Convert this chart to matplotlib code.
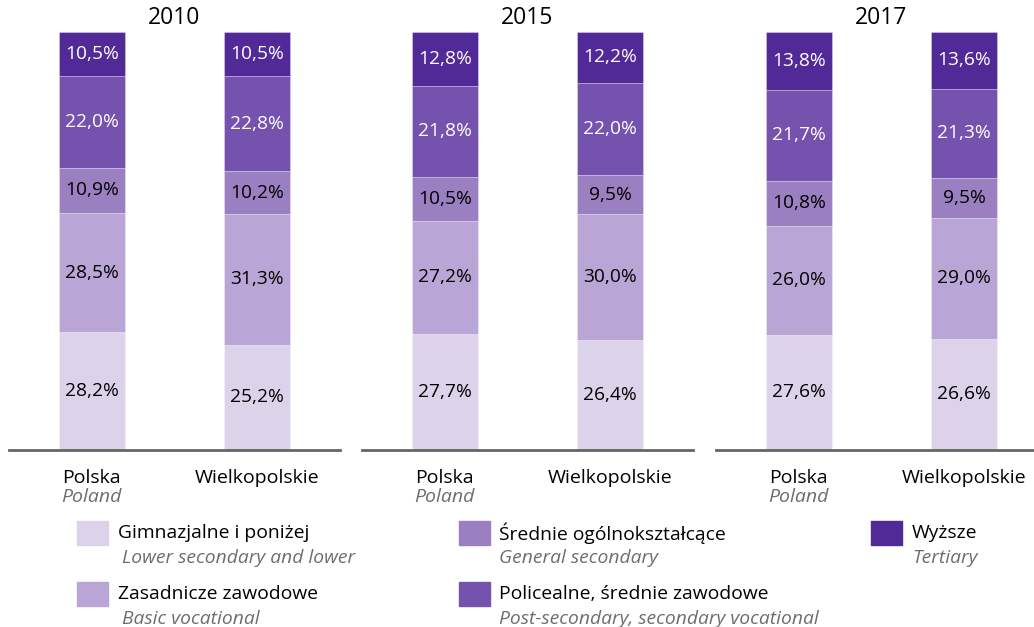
import matplotlib
matplotlib.use("Agg")
import matplotlib.pyplot as plt
from matplotlib.patches import Rectangle

plt.rcParams['font.family'] = ['Open Sans', 'DejaVu Sans']

years = ["2010", "2015", "2017"]
regions = ["Polska", "Wielkopolskie"]
regions_en = ["Poland", ""]
levels_pl = ["Gimnazjalne i poniżej", "Zasadnicze zawodowe", "Średnie ogólnokształcące",
             "Policealne, średnie zawodowe", "Wyższe"]
levels_en = ["Lower secondary and lower", "Basic vocational", "General secondary",
             "Post-secondary, secondary vocational", "Tertiary"]
colors = ["#dcd3ea", "#b9a6d6", "#9a7fc1", "#7552ad", "#512a97"]
text_colors = ["black", "black", "black", "white", "white"]

# values[year][region] = [lower sec, basic voc, general sec, post-sec, tertiary]
values_2010 = [[28.2, 28.5, 10.9, 22.0, 10.5], [25.2, 31.3, 10.2, 22.8, 10.5]]
values_2015 = [[27.7, 27.2, 10.5, 21.8, 12.8], [26.4, 30.0, 9.5, 22.0, 12.2]]
values_2017 = [[27.6, 26.0, 10.8, 21.7, 13.8], [26.6, 29.0, 9.5, 21.3, 13.6]]
all_values = [values_2010, values_2015, values_2017]

W, H = 1034, 627
fig = plt.figure(figsize=(W / 100, H / 100), dpi=100)

ax_lefts = [9, 362, 716]
ax_w = 331
ax_bottom = 450
ax_top = 32

for yi, (yr, vals) in enumerate(zip(years, all_values)):
    ax = fig.add_axes([ax_lefts[yi] / W, (H - ax_bottom) / H, ax_w / W, (ax_bottom - ax_top) / H])
    ax.set_xlim(-0.5, 1.5)
    ax.set_ylim(0, 100)
    for spine in ["top", "right", "left"]:
        ax.spines[spine].set_visible(False)
    ax.spines["bottom"].set_color("#666666")
    ax.spines["bottom"].set_linewidth(2)
    ax.spines["bottom"].set_zorder(5)
    ax.set_yticks([])
    ax.set_xticks([])
    for ri, rv in enumerate(vals):
        total = sum(rv)
        bottom = 0
        for li, v in enumerate(rv):
            h = v / total * 100
            ax.bar(ri, h, width=0.4, bottom=bottom, color=colors[li],
                   edgecolor=(1, 1, 1, 0.35), linewidth=0.6)
            ax.text(ri, bottom + h / 2, f"{v:.1f}%".replace(".", ","),
                    ha="center", va="center", fontsize=13.8, color=text_colors[li])
            bottom += h
        ax.text(ri, -6.7, regions[ri], ha="center", va="center", fontsize=14,
                color="black", clip_on=False)
        if regions_en[ri]:
            ax.text(ri, -11.3, regions_en[ri], ha="center", va="center", fontsize=14,
                    color="#6d6d6d", style="italic", clip_on=False)
    ax.text(0.5, 1.005, yr, transform=ax.transAxes, ha="center", va="bottom",
            fontsize=16.5, color="black")

# legend
sq_w, sq_h = 31, 24
leg_items = [
    (77, 521, 118, 122, 0),
    (77, 582, 118, 122, 1),
    (459, 521, 499, 499, 2),
    (459, 582, 499, 499, 3),
    (871, 521, 912, 912, 4),
]
for sx, sy, tx, ix, li in leg_items:
    fig.patches.append(Rectangle((sx / W, 1 - (sy + sq_h) / H), sq_w / W, sq_h / H,
                                 transform=fig.transFigure, color=colors[li]))
    fig.text(tx / W, 1 - (sy + 12) / H, levels_pl[li], ha="left", va="center",
             fontsize=13.9, color="black")
    fig.text(ix / W, 1 - (sy + 37) / H, levels_en[li], ha="left", va="center",
             fontsize=13.9, color="#6d6d6d", style="italic")

fig.savefig("out.png", dpi=100)
